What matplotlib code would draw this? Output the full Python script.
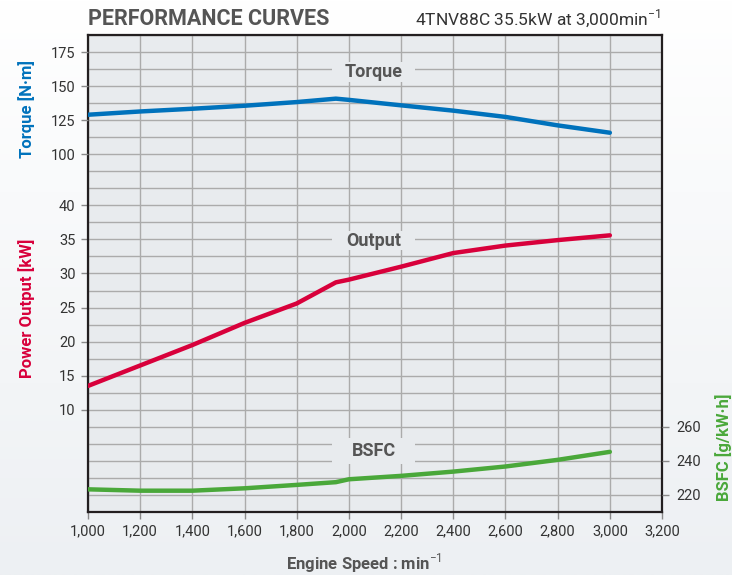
import numpy as np
import matplotlib
matplotlib.use("Agg")
import matplotlib.pyplot as plt
from matplotlib.patches import Rectangle
from matplotlib.ticker import FuncFormatter

plt.rcParams["font.family"] = ["Roboto", "DejaVu Sans"]
plt.rcParams["mathtext.fontset"] = "custom"
plt.rcParams["mathtext.rm"] = "Roboto"
plt.rcParams["mathtext.bf"] = "Roboto:bold"

# data
rpm = [1000, 1200, 1400, 1600, 1800, 1950, 2000, 2200, 2400, 2600, 2800, 3000]
torque = [129.0, 131.4, 133.4, 135.6, 138.3, 140.8, 139.9, 135.9, 132.0, 127.4, 121.2, 115.8]
output = [13.5, 16.5, 19.5, 22.75, 25.6, 28.7, 29.1, 31.0, 33.0, 34.1, 34.9, 35.6]
bsfc = [223.3, 222.5, 222.5, 223.9, 225.9, 227.5, 229.2, 231.2, 233.7, 236.7, 240.6, 245.3]

torque_ticks = [100, 125, 150, 175]
output_ticks = [10, 15, 20, 25, 30, 35, 40]
bsfc_ticks = [220, 240, 260]
rpm_ticks = list(range(1000, 3201, 200))

curve_labels = ["Torque", "Output", "BSFC"]

c_torque = "#0072bc"
c_output = "#d8003b"
c_bsfc = "#4aa83a"
c_grey = "#555555"
c_bg = "#e8ebee"

fig = plt.figure(figsize=(7.32, 5.75), dpi=100)

# soft background gradient
bg = fig.add_axes([0, 0, 1, 1], zorder=-10)
grad = np.linspace(0, 1, 256).reshape(-1, 1)
bg.imshow(grad, aspect="auto", cmap=matplotlib.colors.LinearSegmentedColormap.from_list(
    "g", ["#ffffff", "#edf0f3"]), extent=[0, 1, 0, 1], origin="upper")
bg.axis("off")

ax = fig.add_axes([0.1202, 0.1096, 0.7842, 0.8295])
ax.set_facecolor(c_bg)
ax_t = ax.twinx()
ax_b = ax.twinx()

# every axis spans 28 grid rows of equal height
ax.set_ylim(-5, 65)
ax_t.set_ylim(-162.5, 187.5)
ax_b.set_ylim(210, 490)
ax.set_xlim(1000, 3200)

ax.plot(rpm, output, color=c_output, lw=3.2, solid_capstyle="round", zorder=3)
ax_t.plot(rpm, torque, color=c_torque, lw=3.2, solid_capstyle="round")
ax_b.plot(rpm, bsfc, color=c_bsfc, lw=3.2, solid_capstyle="round")

# grid
ax.set_axisbelow(True)
ax.set_xticks(rpm_ticks)
ax.xaxis.set_major_formatter(FuncFormatter(lambda v, p: f"{int(v):,}"))
ax.set_yticks(output_ticks)
ax.set_yticks(np.arange(-5, 65.1, 2.5), minor=True)
ax.grid(True, which="both", color="#ababab", lw=1.0)
ax.tick_params(axis="y", which="minor", length=0)
ax.tick_params(axis="both", which="major", length=5, width=1, color="#8a8a8a",
               labelsize=10.5, labelcolor="#333333", pad=4)

ax_t.set_yticks(torque_ticks)
ax_t.yaxis.tick_left()
ax_t.tick_params(axis="y", length=5, width=1, color="#8a8a8a",
                 labelsize=10.5, labelcolor="#333333", pad=4)

ax_b.set_yticks(bsfc_ticks)
ax_b.tick_params(axis="y", length=5, width=1, color="#8a8a8a",
                 labelsize=10.5, labelcolor="#333333", pad=5)

for a in (ax_t, ax_b):
    for s in a.spines.values():
        s.set_visible(False)
for s in ax.spines.values():
    s.set_color("#231f20")
    s.set_linewidth(1.6)

# axis labels
ax.set_ylabel("Power Output [kW]", color=c_output, fontsize=12, fontweight="bold")
ax.yaxis.set_label_coords(-0.092, 0.428)
ax_t.set_ylabel("Torque [N·m]", color=c_torque, fontsize=12, fontweight="bold")
ax_t.yaxis.set_label_position("left")
ax_t.yaxis.set_label_coords(-0.092, 0.845)
ax_b.set_ylabel("BSFC [g/kW·h]", color=c_bsfc, fontsize=12, fontweight="bold")
ax_b.yaxis.set_label_coords(1.093, 0.136)
ax.set_xlabel(r"Engine Speed : min$^{-1}$", color=c_grey, fontsize=12, fontweight="bold")
ax.xaxis.set_label_coords(0.48, -0.082)

# curve names on boxes that break the grid
lab_x = 2095
lab_y = [0.922, 0.569, 0.128]
lab_h = [0.042, 0.040, 0.055]
tr = ax.get_xaxis_transform()
for name, y, h in zip(curve_labels, lab_y, lab_h):
    ax.add_patch(Rectangle((lab_x - 158, y - h / 2), 316, h, transform=tr,
                           facecolor=c_bg, edgecolor="none", zorder=2))
    ax.text(lab_x, y, name, transform=tr, ha="center", va="center",
            fontsize=13, fontweight="bold", color=c_grey, zorder=4)

fig.text(0.12, 0.9565, "PERFORMANCE CURVES", fontsize=15.5, fontweight="bold",
         color=c_grey, va="baseline")
fig.text(0.567, 0.958, r"4TNV88C 35.5kW at 3,000min$^{-1}$", fontsize=12.5,
         color="#333333", va="baseline")

fig.savefig("out.png", dpi=100)
